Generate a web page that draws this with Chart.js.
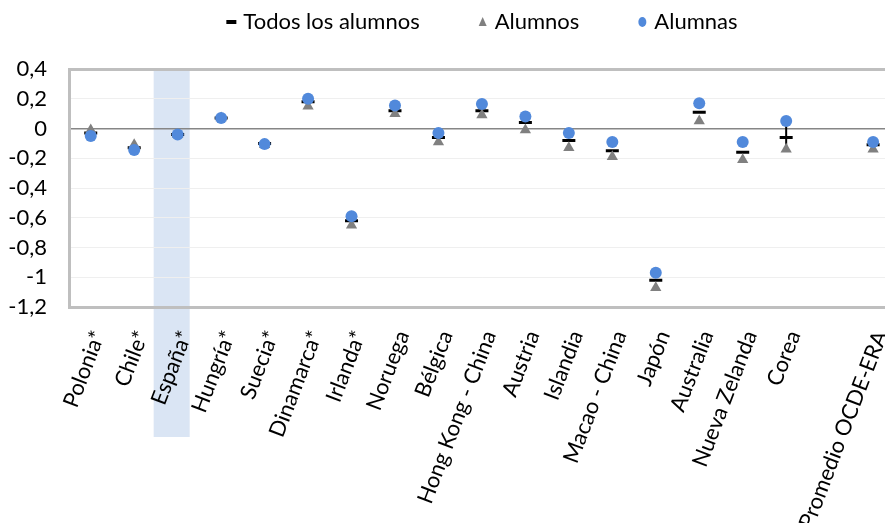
<!DOCTYPE html>
<html>
<head>
<meta charset="utf-8">
<script src="https://cdn.jsdelivr.net/npm/chart.js@4/dist/chart.umd.min.js"></script>
<style>
  body { margin: 0; overflow: hidden; background: #fff; }
  #grafico { position: absolute; left: 0; top: 0; }
</style>
</head>
<body>
<canvas id="grafico" width="918" height="523"></canvas>
<script>
const categorias = ["Polonia*", "Chile*", "España*", "Hungría*", "Suecia*", "Dinamarca*", "Irlanda*",
  "Noruega", "Bélgica", "Hong Kong - China", "Austria", "Islandia", "Macao - China", "Japón",
  "Australia", "Nueva Zelanda", "Corea", "", "Promedio OCDE-ERA"];
const todos = [-0.03, -0.13, -0.04, 0.07, -0.10, 0.18, -0.62, 0.12, -0.06, 0.12, 0.04, -0.08, -0.15, -1.02, 0.11, -0.16, -0.06, null, -0.11];
const alumnos = [-0.01, -0.11, -0.04, 0.07, -0.11, 0.15, -0.65, 0.10, -0.09, 0.09, -0.01, -0.13, -0.19, -1.07, 0.05, -0.21, -0.14, null, -0.14];
const alumnas = [-0.05, -0.145, -0.04, 0.07, -0.105, 0.20, -0.59, 0.155, -0.03, 0.165, 0.08, -0.03, -0.09, -0.97, 0.17, -0.09, 0.05, null, -0.09];
const destacado = "España*";
const conLinea = "Corea";
const yTicks = [0.4, 0.2, 0, -0.2, -0.4, -0.6, -0.8, -1, -1.2];

const FUENTE = "Lato, 'Open Sans', sans-serif";
const AZUL = "#5189db";
const GRIS = "#808080";

const iCorea = categorias.indexOf(conLinea);
const lineaCorea = [
  { x: conLinea, y: alumnas[iCorea] },
  { x: conLinea, y: alumnos[iCorea] }
];

const fmt = (v) => String(Math.round(v * 10) / 10).replace(".", ",");

// banda azul detras de España
const banda = {
  id: "banda",
  beforeDraw(chart) {
    const { ctx, chartArea } = chart;
    const x = chart.scales.x.getPixelForValue(categorias.indexOf(destacado));
    ctx.save();
    ctx.fillStyle = "#dae5f4";
    ctx.fillRect(x - 24, chartArea.top, 36, 437 - chartArea.top);
    ctx.restore();
  }
};

// leyenda propia centrada sobre el area de trazado
const leyenda = {
  id: "leyenda",
  afterDraw(chart) {
    const { ctx, chartArea } = chart;
    const items = [
      { txt: "Todos los alumnos", tipo: "dash" },
      { txt: "Alumnos", tipo: "tri" },
      { txt: "Alumnas", tipo: "circ" }
    ];
    ctx.save();
    ctx.font = "22px " + FUENTE;
    ctx.textBaseline = "middle";
    const marca = 10, sep = 7, hueco = 58;
    let total = 0;
    items.forEach((it, i) => {
      it.w = ctx.measureText(it.txt).width;
      total += marca + sep + it.w + (i ? hueco : 0);
    });
    let x = (chartArea.left + chartArea.right) / 2 - total / 2;
    const y = 22;
    items.forEach((it) => {
      const cx = x + marca / 2;
      if (it.tipo === "dash") {
        ctx.fillStyle = "#000";
        ctx.fillRect(x, y - 2, marca, 4);
      } else if (it.tipo === "tri") {
        ctx.fillStyle = GRIS;
        ctx.beginPath();
        ctx.moveTo(cx, y - 5);
        ctx.lineTo(cx + 4, y + 4);
        ctx.lineTo(cx - 4, y + 4);
        ctx.closePath();
        ctx.fill();
      } else {
        ctx.fillStyle = AZUL;
        ctx.beginPath();
        ctx.ellipse(cx, y, 4, 5, 0, 0, Math.PI * 2);
        ctx.fill();
      }
      ctx.fillStyle = "#000";
      ctx.fillText(it.txt, x + marca + sep, y);
      x += marca + sep + it.w + hueco;
    });
    ctx.restore();
  }
};

new Chart(document.getElementById("grafico"), {
  type: "line",
  data: {
    labels: categorias,
    datasets: [
      {
        label: "Alumnas",
        data: alumnas,
        showLine: false,
        pointStyle: "circle",
        pointRadius: 6,
        pointBackgroundColor: AZUL,
        pointBorderColor: AZUL,
        pointBorderWidth: 0,
        order: 0
      },
      {
        label: "Alumnos",
        data: alumnos,
        showLine: false,
        pointStyle: "triangle",
        pointRadius: 6.5,
        pointBackgroundColor: GRIS,
        pointBorderColor: GRIS,
        pointBorderWidth: 0,
        order: 1
      },
      {
        label: "Todos los alumnos",
        data: todos,
        showLine: false,
        pointStyle: "line",
        pointRadius: 6.5,
        pointBorderColor: "#000",
        pointBorderWidth: 3,
        order: 2
      },
      {
        label: "linea",
        data: lineaCorea,
        borderColor: "#000",
        borderWidth: 2,
        pointRadius: 0,
        order: 3
      }
    ]
  },
  options: {
    responsive: false,
    animation: false,
    layout: { padding: { top: 69, left: 0, right: 7, bottom: 0 } },
    plugins: {
      legend: { display: false },
      tooltip: { enabled: false }
    },
    scales: {
      x: {
        offset: true,
        grid: { display: false, drawTicks: false },
        border: { color: "#bfbfbf", width: 3 },
        afterFit(scale) { scale.height = 216; },
        ticks: {
          autoSkip: false,
          minRotation: 69,
          maxRotation: 69,
          padding: 20,
          labelOffset: 8,
          color: "#000",
          font: { family: FUENTE, size: 22 }
        }
      },
      y: {
        min: -1.2,
        max: 0.4,
        afterFit(scale) { scale.width = 69; },
        afterBuildTicks(scale) { scale.ticks = yTicks.map((v) => ({ value: v })); },
        grid: {
          drawTicks: false,
          color: (c) => c.tick.value === 0 ? "#868686" : (c.tick.value === 0.4 ? "#bfbfbf" : "#efefef"),
          lineWidth: (c) => c.tick.value === 0 ? 1.5 : (c.tick.value === 0.4 ? 3 : 1)
        },
        border: { color: "#bfbfbf", width: 3 },
        ticks: {
          padding: 22,
          color: "#000",
          font: { family: FUENTE, size: 22 },
          callback: (v) => fmt(v)
        }
      }
    }
  },
  plugins: [banda, leyenda]
});
</script>
</body>
</html>
